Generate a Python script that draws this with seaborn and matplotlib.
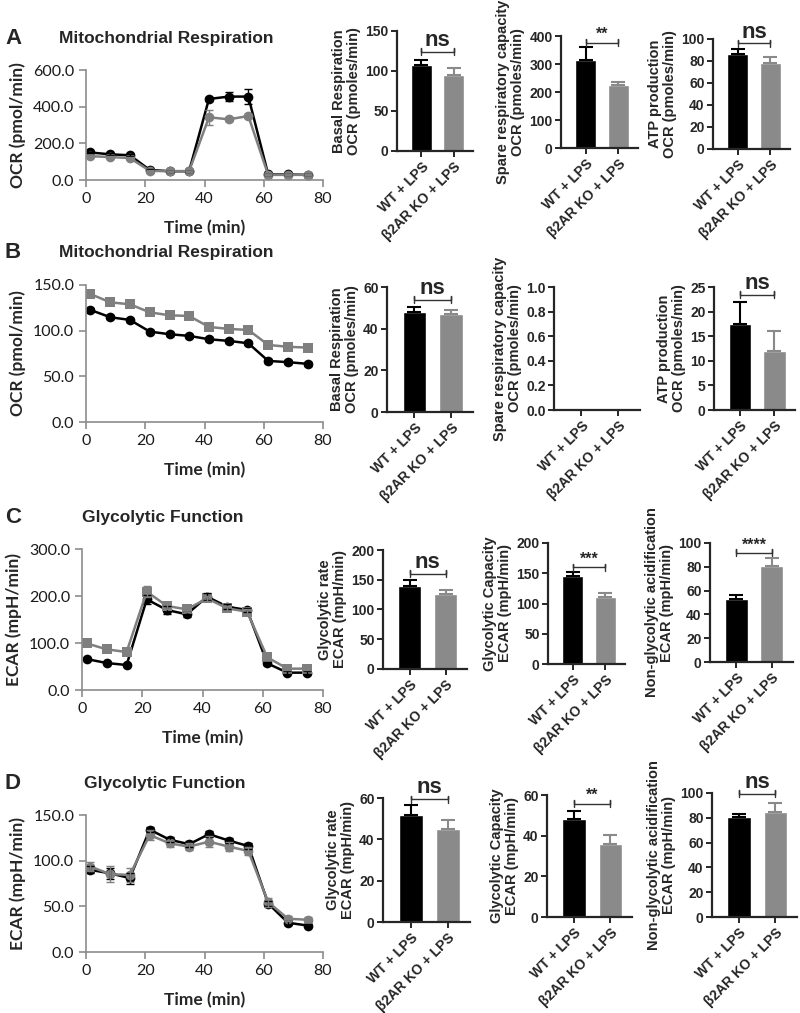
import numpy as np
import pandas as pd
import matplotlib
matplotlib.use('Agg')
import matplotlib.pyplot as plt
import seaborn as sns

# Time points of the Seahorse runs (min)
time_min = [1.5, 8.2, 14.8, 21.5, 28.2, 34.8, 41.5, 48.2, 54.8, 61.5, 68.2, 74.8]

# A - mitochondrial respiration traces
a_wt = [150, 140, 135, 55, 48, 48, 442, 455, 455, 30, 30, 28]
a_ko = [130, 125, 120, 50, 48, 48, 342, 331, 349, 28, 28, 28]
a_wt_err = [5, 5, 5, 3, 3, 3, 10, 25, 40, 3, 3, 3]
a_ko_err = [5, 5, 5, 3, 3, 3, 40, 10, 10, 3, 3, 3]

# B - mitochondrial respiration traces
b_wt = [122.7, 114.7, 111.8, 99.0, 96.1, 94.3, 90.6, 88.8, 86.2, 66.9, 65.5, 63.7]
b_ko = [140.1, 131.0, 128.9, 120.1, 116.8, 116.1, 104.1, 101.9, 100.8, 84.4, 82.3, 81.5]
b_wt_err = [2, 2, 2, 2, 2, 2, 2, 2, 2, 2, 2, 2]
b_ko_err = [2, 2, 2, 2, 2, 2, 2, 2, 2, 2, 2, 2]

# C - glycolytic function traces
c_wt = [65.9, 57.4, 53.2, 192.9, 170.2, 161.0, 198.5, 177.3, 170.2, 56.7, 36.9, 36.9]
c_ko = [99.3, 86.5, 80.8, 209.2, 178.7, 171.6, 195.0, 173.7, 166.6, 69.5, 45.4, 45.4]
c_wt_err = [3, 3, 3, 10, 8, 5, 8, 5, 5, 3, 3, 3]
c_ko_err = [4, 4, 4, 12, 6, 6, 6, 5, 5, 4, 3, 3]

# D - glycolytic function traces
d_wt = [90, 86, 81, 134, 123, 118, 129, 122, 116, 53, 32, 29]
d_ko = [93.5, 85.2, 84.4, 128.1, 119.0, 115.4, 120.8, 115.4, 110.6, 54.6, 36.4, 35.3]
d_wt_err = [4, 6, 6, 3, 3, 3, 3, 3, 3, 3, 2, 2]
d_ko_err = [5, 9, 8, 5, 4, 4, 6, 5, 4, 5, 3, 3]

# Bar summaries: [WT, KO] means and SEM
groups = ['WT + LPS', 'β2AR KO + LPS']
a_basal, a_basal_err = [108, 95], [6, 9]
a_spare, a_spare_err = [315, 225], [45, 10]
a_atp, a_atp_err = [86, 78], [5, 6]
b_basal, b_basal_err = [48, 47], [2.5, 2]
b_spare, b_spare_err = [0, 0], [0, 0]
b_atp, b_atp_err = [17.5, 12], [4.5, 4]
c_rate, c_rate_err = [140, 126], [10, 7]
c_cap, c_cap_err = [145, 111], [7, 6]
c_nong, c_nong_err = [53, 81], [3, 6]
d_rate, d_rate_err = [52, 45], [4.5, 4.5]
d_cap, d_cap_err = [48, 36], [4, 4.5]
d_nong, d_nong_err = [81, 85], [2, 7]

sns.set_style('ticks')
plt.rcParams['font.family'] = ['Liberation Sans', 'DejaVu Sans']

W, H = 800, 1013
fig = plt.figure(figsize=(8, 10.13), dpi=100)

bar_colors = ['#000000', '#8a8a8a']
trace_gray = '#7f7f7f'
axis_gray = '#8c8c8c'


def px_axes(l, t, r, b):
    return fig.add_axes([l / W, 1 - b / H, (r - l) / W, (b - t) / H])


def px_text(x, y, s, **kw):
    fig.text(x / W, 1 - y / H, s, **kw)


def trace_panel(box, wt, ko, wt_err, ko_err, ymax, ystep, ylabel, ko_marker):
    ax = px_axes(*box)
    n = len(time_min)
    df = pd.DataFrame({'time': time_min * 2, 'value': wt + ko,
                       'group': ['WT'] * n + ['KO'] * n})
    sns.lineplot(data=df, x='time', y='value', hue='group', style='group',
                 palette={'WT': 'black', 'KO': trace_gray},
                 markers={'WT': 'o', 'KO': ko_marker}, dashes=False,
                 lw=1.8, markersize=7, markeredgewidth=0, legend=False, ax=ax)
    ax.errorbar(time_min, wt, yerr=wt_err, fmt='none', ecolor='black',
                elinewidth=1, capsize=3)
    ax.errorbar(time_min, ko, yerr=ko_err, fmt='none', ecolor=trace_gray,
                elinewidth=1, capsize=3)
    ax.set_xlim(0, 80)
    ax.set_ylim(0, ymax)
    ax.set_xticks([0, 20, 40, 60, 80])
    yt = np.arange(0, ymax + 0.01, ystep)
    ax.set_yticks(yt)
    ax.set_yticklabels([f'{v:.1f}' for v in yt])
    sns.despine(ax=ax)
    for s in ['left', 'bottom']:
        ax.spines[s].set_color(axis_gray)
        ax.spines[s].set_linewidth(1.2)
    ax.tick_params(colors=axis_gray, length=5, width=1.2, labelcolor='#1a1a1a',
                   labelsize=11.5)
    for lab in ax.get_xticklabels() + ax.get_yticklabels():
        lab.set_family('Lato')
    ax.set_xlabel('Time (min)', fontsize=12.5, fontweight='bold', family='Lato',
                  labelpad=10)
    ax.set_ylabel(ylabel, fontsize=12.5, fontweight='bold', family='Lato',
                  labelpad=5)
    return ax


def bar_panel(box, means, errs, ymax, ystep, ylabel, mark=None, mark_y=None,
              decimals=0):
    ax = px_axes(*box)
    df = pd.DataFrame({'group': groups, 'value': means})
    sns.barplot(data=df, x='group', y='value', hue='group', palette=bar_colors,
                saturation=1, width=0.65, legend=False, ax=ax)
    for i in range(2):
        if errs[i] > 0:
            ax.errorbar(i, means[i], yerr=[[0], [errs[i]]], fmt='none',
                        ecolor=bar_colors[i], elinewidth=1.5, capsize=5,
                        capthick=1.5)
    ax.set_xlim(-0.75, 1.6)
    ax.set_ylim(0, ymax)
    yt = np.arange(0, ymax + ystep * 0.01, ystep)
    ax.set_yticks(yt)
    ax.set_yticklabels([f'{v:.{decimals}f}' for v in yt])
    ax.set_xticks([0, 1])
    ax.set_xticklabels(groups, rotation=45, ha='right', rotation_mode='anchor')
    sns.despine(ax=ax)
    for s in ['left', 'bottom']:
        ax.spines[s].set_linewidth(1.6)
    ax.tick_params(length=4, width=1.4, labelsize=10, pad=2)
    for lab in ax.get_xticklabels() + ax.get_yticklabels():
        lab.set_fontweight('bold')
    ax.set_xlabel('')
    ax.set_ylabel(ylabel, fontsize=10.5, fontweight='bold', labelpad=3,
                  linespacing=1.1)
    if mark:
        px_h = box[3] - box[1]
        d = ymax * 3.5 / px_h
        ax.plot([0, 0, 0, 1, 1, 1], [mark_y - d, mark_y + d, mark_y, mark_y,
                                     mark_y + d, mark_y - d],
                color='#333333', lw=1, clip_on=False)
        ax.text(0.5, mark_y + d * 0.2, mark, ha='center', va='bottom',
                fontsize=16 if mark == 'ns' else 11.5, fontweight='bold',
                clip_on=False)
    return ax


# Row A
px_text(5, 38, 'A', fontsize=16, fontweight='bold', va='center')
px_text(166, 38, 'Mitochondrial Respiration', fontsize=12.5, fontweight='bold',
        ha='center', va='center')
trace_panel((86, 70, 323, 180), a_wt, a_ko, a_wt_err, a_ko_err, 600, 200,
            'OCR (pmol/min)', 'o')
bar_panel((397, 31, 473, 151), a_basal, a_basal_err, 150, 50,
          'Basal Respiration\nOCR (pmoles/min)', 'ns', 124)
bar_panel((561, 36, 638, 148), a_spare, a_spare_err, 400, 100,
          'Spare respiratory capacity\nOCR (pmoles/min)', '**', 376)
bar_panel((713, 39, 790, 149), a_atp, a_atp_err, 100, 20,
          'ATP production\nOCR (pmoles/min)', 'ns', 96)

# Row B
px_text(5, 253, 'B', fontsize=16, fontweight='bold', va='center')
px_text(166, 253, 'Mitochondrial Respiration', fontsize=12.5, fontweight='bold',
        ha='center', va='center')
trace_panel((86, 285, 323, 422), b_wt, b_ko, b_wt_err, b_ko_err, 150, 50,
            'OCR (pmol/min)', 's')
bar_panel((387, 287, 473, 412), b_basal, b_basal_err, 60, 20,
          'Basal Respiration\nOCR (pmoles/min)', 'ns', 54)
bar_panel((554, 287, 640, 410), b_spare, b_spare_err, 1.0, 0.2,
          'Spare respiratory capacity\nOCR (pmoles/min)', decimals=1)
bar_panel((714, 287, 795, 410), b_atp, b_atp_err, 25, 5,
          'ATP production\nOCR (pmoles/min)', 'ns', 23.4)

# Row C
px_text(5, 517, 'C', fontsize=16, fontweight='bold', va='center')
px_text(163, 517, 'Glycolytic Function', fontsize=12.5, fontweight='bold',
        ha='center', va='center')
trace_panel((82, 549, 323, 690), c_wt, c_ko, c_wt_err, c_ko_err, 300, 100,
            'ECAR (mpH/min)', 's')
bar_panel((383, 550, 467, 669), c_rate, c_rate_err, 200, 50,
          'Glycolytic rate\nECAR (mpH/min)', 'ns', 160)
bar_panel((548, 543, 625, 664), c_cap, c_cap_err, 200, 50,
          'Glycolytic Capacity\nECAR (mpH/min)', '***', 160)
bar_panel((710, 543, 793, 662), c_nong, c_nong_err, 100, 20,
          'Non-glycolytic acidification\nECAR (mpH/min)', '****', 91.6)

# Row D
px_text(5, 783, 'D', fontsize=16, fontweight='bold', va='center')
px_text(165, 783, 'Glycolytic Function', fontsize=12.5, fontweight='bold',
        ha='center', va='center')
trace_panel((86, 815, 323, 952), d_wt, d_ko, d_wt_err, d_ko_err, 150, 50,
            'ECAR (mpH/min)', 'o')
bar_panel((383, 798, 470, 922), d_rate, d_rate_err, 60, 20,
          'Glycolytic rate\nECAR (mpH/min)', 'ns', 59.5)
bar_panel((547, 795, 632, 917), d_cap, d_cap_err, 60, 20,
          'Glycolytic Capacity\nECAR (mpH/min)', '**', 55.6)
bar_panel((712, 793, 797, 917), d_nong, d_nong_err, 100, 20,
          'Non-glycolytic acidification\nECAR (mpH/min)', 'ns', 99.2)

fig.savefig('out.png', dpi=100)
